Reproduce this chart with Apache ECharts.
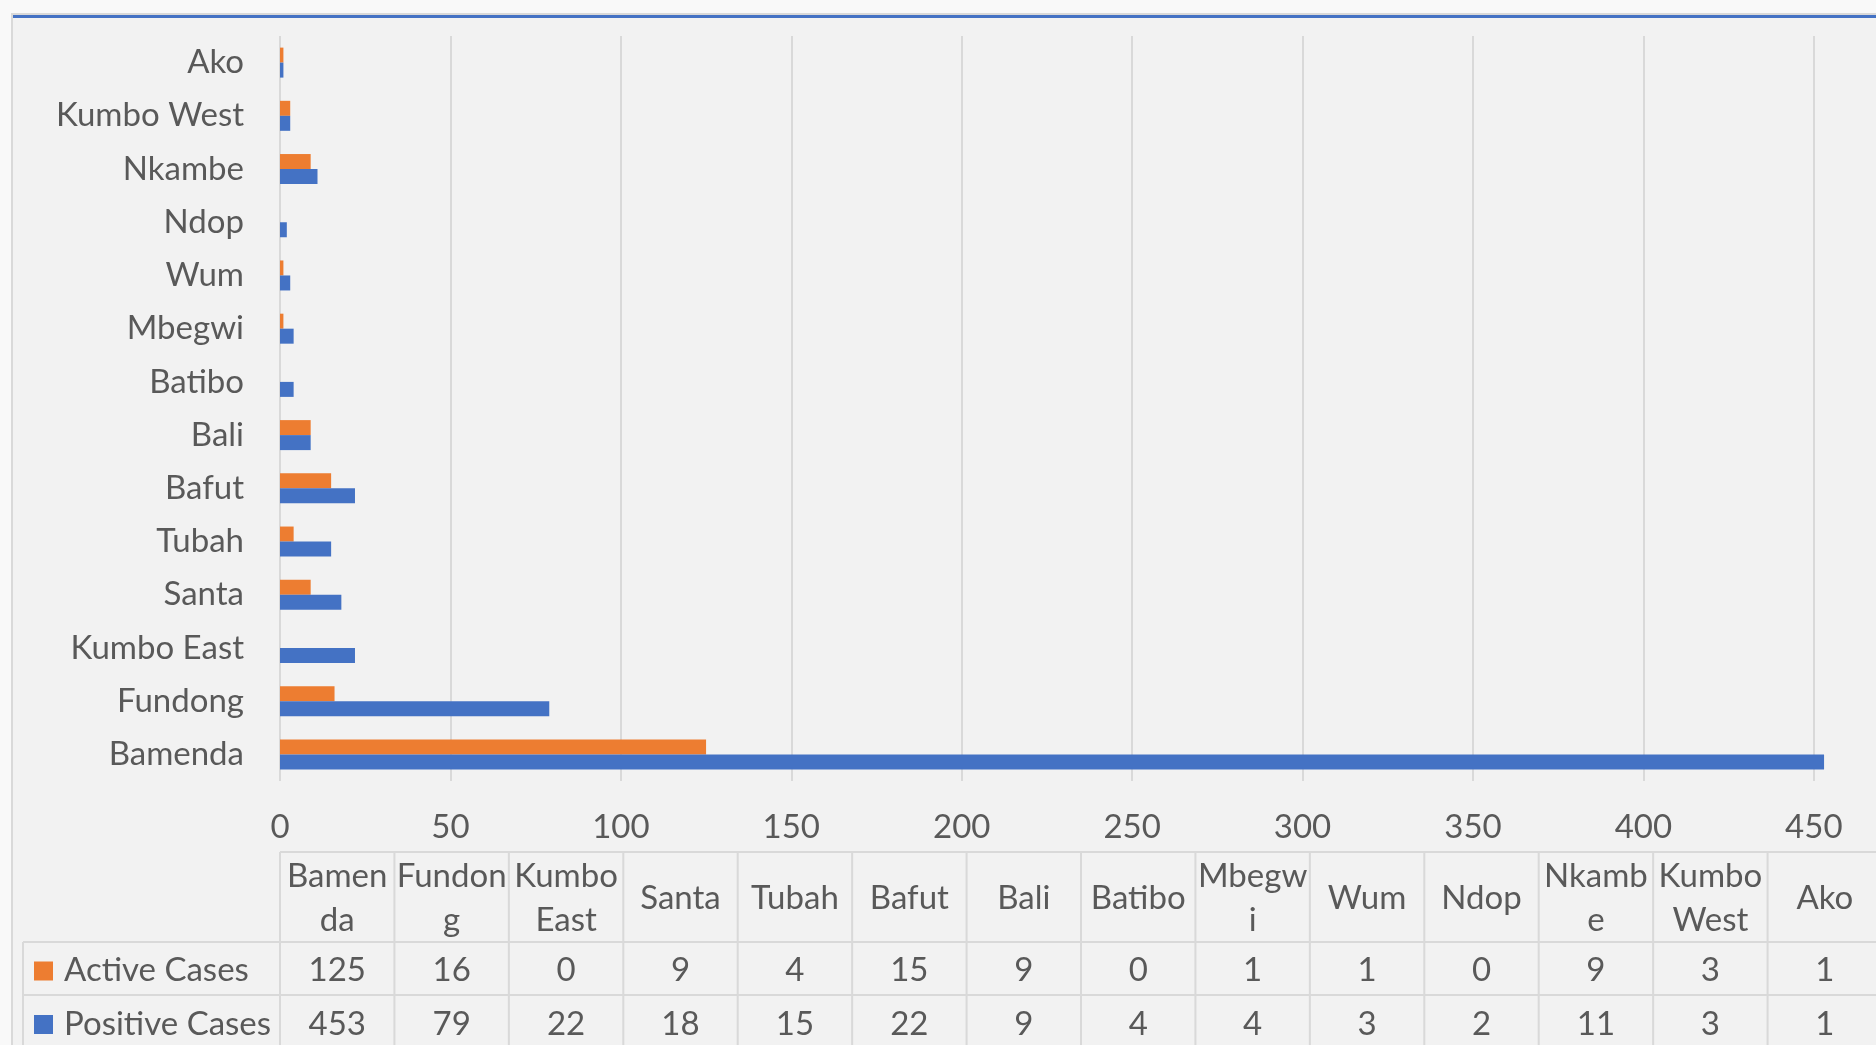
<!DOCTYPE html>
<html><head><meta charset="utf-8">
<script src="https://cdn.jsdelivr.net/npm/echarts@6/dist/echarts.min.js"></script>
<style>
html,body{margin:0;padding:0;background:#f9f9f9;overflow:hidden;width:1876px;height:1045px;}
#frame{position:absolute;left:11px;top:13px;width:1880px;height:1040px;background:#f2f2f2;border-left:2px solid #d9d9d9;border-top:2px solid #d9d9d9;}
#frame:before{content:"";position:absolute;left:0;right:0;top:0;height:3px;background:#4472C4;}
#c{position:absolute;left:0;top:0;width:1900px;height:1045px;}
</style>
</head><body><div id="frame"></div><div id="c"></div>
<script>
const categories = ['Bamenda','Fundong','Kumbo East','Santa','Tubah','Bafut','Bali','Batibo','Mbegwi','Wum','Ndop','Nkambe','Kumbo West','Ako'];
const headerLabels = ['Bamen\nda','Fundon\ng','Kumbo\nEast','Santa','Tubah','Bafut','Bali','Batibo','Mbegw\ni','Wum','Ndop','Nkamb\ne','Kumbo\nWest','Ako'];
const seriesNames = ['Active Cases','Positive Cases'];
const activeCases = [125,16,0,9,4,15,9,0,1,1,0,9,3,1];
const positiveCases = [453,79,22,18,15,22,9,4,4,3,2,11,3,1];
const colors = ['#ED7D31','#4472C4'];

const W = 1900;
const FONT = 'Lato';
const FS = 33;
const TXT = '#595959';
const gridLeft = 280, gridTop = 36, gridRightEdge = 1882, gridBottomEdge = 781;
const gridW = gridRightEdge - gridLeft;
const colW = gridW / categories.length;
const headTop = 852, row1Top = 942, row2Top = 995, rowBottom = 1049, legendLeft = 23;
const LC = '#d9d9d9';

const g = [];
function line(x1,y1,x2,y2){ g.push({type:'line',shape:{x1,y1,x2,y2},style:{stroke:LC,lineWidth:2},z:50}); }
function text(t,x,y,align){ g.push({type:'text',x,y,style:{text:t,fill:TXT,font:FS+'px '+FONT,textAlign:align||'center',textVerticalAlign:'middle',lineHeight:44},z:60}); }
line(gridLeft, headTop, W, headTop);
line(legendLeft, row1Top, W, row1Top);
line(legendLeft, row2Top, W, row2Top);
line(legendLeft, row1Top, legendLeft, rowBottom);
for(let k=0;k<=categories.length;k++){ const x=gridLeft+k*colW; line(x, headTop, x, rowBottom); }
const rows = [activeCases, positiveCases];
const rowTops = [row1Top, row2Top];
categories.forEach((c,i)=>{
  const cx = gridLeft + (i+0.5)*colW;
  text(headerLabels[i], cx, (headTop+row1Top)/2+1);
  rows.forEach((r,j)=>{ text(String(r[i]), cx, (rowTops[j]+(j?rowBottom:row2Top))/2+2); });
});
seriesNames.forEach((n,j)=>{
  const top = rowTops[j], bot = j?rowBottom:row2Top;
  const cy = (top+bot)/2+2;
  g.push({type:'rect',shape:{x:34,y:cy-9,width:19,height:19},style:{fill:colors[j]},z:60});
  text(n, 64, cy, 'left');
});

const chart = echarts.init(document.getElementById('c'), null, {renderer:'canvas'});
chart.setOption({
  backgroundColor:'transparent',
  animation:false,
  textStyle:{fontFamily:FONT},
  grid:{left:gridLeft, top:gridTop, width:gridW, height:gridBottomEdge-gridTop, containLabel:false},
  xAxis:{type:'value', min:0, max:470, interval:50,
    axisLine:{show:false}, axisTick:{show:false},
    axisLabel:{color:TXT, fontSize:FS, fontFamily:FONT, margin:30, showMaxLabel:false,
      formatter:v=> (v%50===0? String(v):'')},
    splitLine:{lineStyle:{color:LC,width:2}}},
  yAxis:{type:'category', data:categories,
    axisLine:{show:false}, axisTick:{show:false},
    axisLabel:{color:TXT, fontSize:FS, fontFamily:FONT, margin:36}},
  series:[
    {name:seriesNames[0], type:'bar', data:activeCases, barWidth:15, barGap:'0%', itemStyle:{color:colors[0]}},
    {name:seriesNames[1], type:'bar', data:positiveCases, barWidth:15, barGap:'0%', itemStyle:{color:colors[1]}}
  ],
  graphic:{elements:g}
});
</script>
</body></html>
